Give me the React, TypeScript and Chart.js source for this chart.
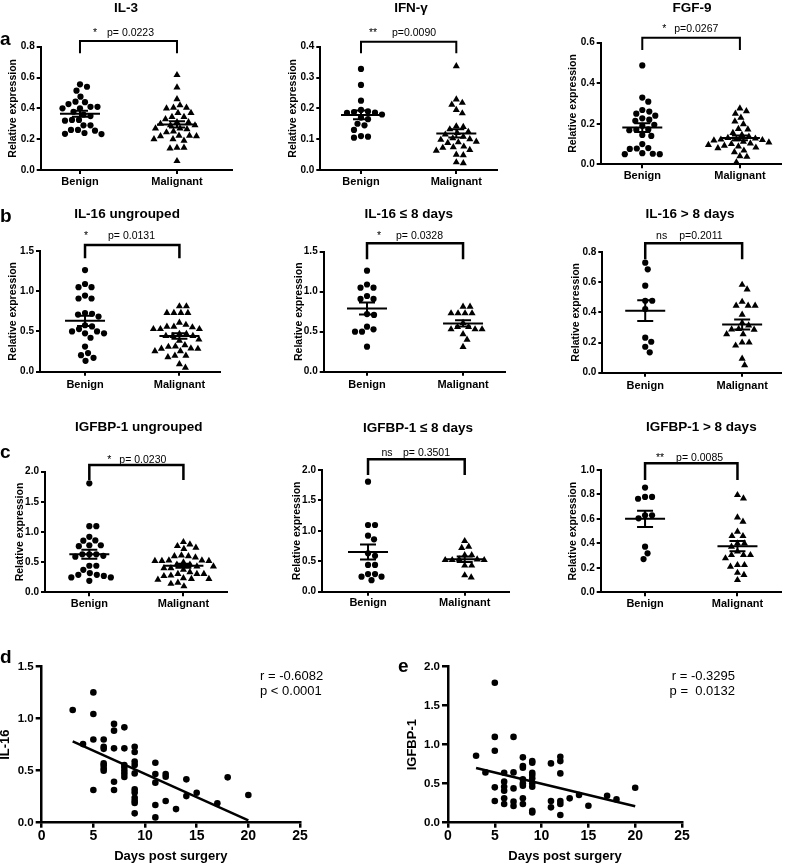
import React, { useEffect, useRef } from "react";
import { Chart, registerables } from "chart.js";

Chart.register(...registerables);

const FONT = '"Liberation Sans", Arial, Helvetica, sans-serif';
Chart.defaults.font.family = FONT;
Chart.defaults.color = "#000";

// ---------------- data ----------------
const GROUPS = ["Benign", "Malignant"];

// a: IL-3
const il3Benign = [0.556, 0.54, 0.515, 0.476, 0.443, 0.44, 0.428, 0.41, 0.41, 0.4, 0.4, 0.378, 0.36, 0.35, 0.325, 0.325, 0.32, 0.29, 0.29, 0.26, 0.26, 0.255, 0.24, 0.235, 0.233];
const il3Malignant = [0.616, 0.536, 0.46, 0.42, 0.405, 0.405, 0.4, 0.37, 0.37, 0.345, 0.345, 0.33, 0.31, 0.31, 0.3, 0.29, 0.29, 0.27, 0.27, 0.265, 0.25, 0.245, 0.223, 0.223, 0.22, 0.22, 0.2, 0.2, 0.19, 0.145, 0.145, 0.14, 0.058];
// a: IFN-γ
const ifnBenign = [0.328, 0.276, 0.225, 0.195, 0.19, 0.188, 0.186, 0.185, 0.18, 0.17, 0.165, 0.15, 0.145, 0.13, 0.11, 0.108, 0.105];
const ifnMalignant = [0.337, 0.229, 0.218, 0.212, 0.195, 0.184, 0.142, 0.14, 0.132, 0.124, 0.12, 0.115, 0.108, 0.103, 0.1, 0.098, 0.092, 0.09, 0.088, 0.076, 0.074, 0.072, 0.065, 0.063, 0.05, 0.048, 0.025, 0.022];
// a: FGF-9
const fgfBenign = [0.488, 0.329, 0.309, 0.268, 0.26, 0.25, 0.24, 0.227, 0.22, 0.215, 0.195, 0.19, 0.172, 0.17, 0.168, 0.145, 0.14, 0.1, 0.08, 0.078, 0.076, 0.055, 0.052, 0.05, 0.05];
const fgfMalignant = [0.276, 0.262, 0.25, 0.23, 0.212, 0.198, 0.175, 0.172, 0.155, 0.145, 0.137, 0.13, 0.127, 0.124, 0.122, 0.12, 0.118, 0.112, 0.108, 0.103, 0.1, 0.096, 0.092, 0.088, 0.083, 0.08, 0.068, 0.06, 0.04, 0.037, 0.01];
// b: IL-16
const il16EarlyBenign = [1.2625, 1.09, 1.05, 1.05, 0.946, 0.91, 0.91, 0.72, 0.71, 0.5625, 0.53, 0.5, 0.5, 0.3125];
const il16EarlyMalignant = [0.8125, 0.8125, 0.73, 0.73, 0.73, 0.73, 0.61, 0.56, 0.56, 0.53, 0.53, 0.53, 0.47, 0.4, 0.31];
const il16LateBenign = [0.729, 0.685, 0.577, 0.477, 0.477, 0.422, 0.232, 0.205, 0.172, 0.135];
const il16LateMalignant = [0.583, 0.552, 0.47, 0.444, 0.444, 0.444, 0.385, 0.33, 0.314, 0.29, 0.287, 0.285, 0.256, 0.256, 0.2, 0.2, 0.18, 0.093, 0.05];
const il16AllBenign = [...il16EarlyBenign, ...il16LateBenign];
const il16AllMalignant = [...il16EarlyMalignant, ...il16LateMalignant];
// c: IGFBP-1
const igfEarlyBenign = [1.808, 1.096, 1.096, 0.92, 0.86, 0.63, 0.59, 0.44, 0.44, 0.29, 0.29, 0.247, 0.247, 0.19];
const igfEarlyMalignant = [0.833, 0.74, 0.72, 0.6, 0.6, 0.53, 0.53, 0.52, 0.52, 0.52, 0.43, 0.43, 0.27, 0.235];
const igfLateBenign = [0.856, 0.78, 0.78, 0.765, 0.63, 0.63, 0.605, 0.373, 0.319, 0.272];
const igfLateMalignant = [0.795, 0.768, 0.613, 0.578, 0.496, 0.46, 0.46, 0.4, 0.4, 0.373, 0.333, 0.305, 0.305, 0.305, 0.278, 0.223, 0.223, 0.21, 0.16, 0.142, 0.1];
const igfAllBenign = [...igfEarlyBenign, ...igfLateBenign];
const igfAllMalignant = [...igfEarlyMalignant, ...igfLateMalignant];

// d: IL-16 vs days post surgery
const il16Days = [3, 4, 5, 5, 5, 5, 6, 6, 6, 6, 6, 6, 6, 7, 7, 7, 7, 7, 8, 8, 8, 8, 8, 8, 8, 9, 9, 9, 9, 9, 9, 9, 9, 9, 9, 9, 11, 11, 11, 11, 11, 12, 12, 12, 13, 14, 14, 15, 17, 18, 20];
const il16Values = [1.083, 0.756, 1.253, 1.045, 0.8, 0.314, 0.8, 0.73, 0.71, 0.57, 0.55, 0.52, 0.5, 0.95, 0.885, 0.715, 0.394, 0.314, 0.917, 0.715, 0.555, 0.53, 0.5, 0.47, 0.44, 0.73, 0.68, 0.587, 0.555, 0.474, 0.32, 0.29, 0.24, 0.21, 0.19, 0.09, 0.577, 0.468, 0.385, 0.17, 0.051, 0.468, 0.442, 0.208, 0.131, 0.417, 0.256, 0.288, 0.186, 0.436, 0.266];
// e: IGFBP-1 vs days post surgery
const igfDays = [3, 4, 5, 5, 5, 5, 5, 6, 6, 6, 6, 6, 6, 7, 7, 7, 7, 7, 8, 8, 8, 8, 8, 8, 8, 8, 9, 9, 9, 9, 9, 9, 9, 9, 9, 11, 11, 11, 12, 12, 12, 12, 12, 12, 13, 14, 15, 17, 18, 20];
const igfValues = [0.859, 0.645, 1.795, 1.1, 0.923, 0.453, 0.278, 0.641, 0.526, 0.46, 0.41, 0.312, 0.239, 1.1, 0.645, 0.44, 0.27, 0.214, 0.838, 0.726, 0.705, 0.556, 0.504, 0.474, 0.312, 0.24, 0.79, 0.77, 0.64, 0.611, 0.568, 0.504, 0.46, 0.154, 0.132, 0.76, 0.278, 0.197, 0.846, 0.79, 0.632, 0.278, 0.239, 0.098, 0.312, 0.355, 0.218, 0.346, 0.299, 0.449];

// ---------------- helpers ----------------
const mean = (a: number[]) => a.reduce((s, v) => s + v, 0) / a.length;
const sem = (a: number[]) => {
  const m = mean(a);
  const v = a.reduce((s, x) => s + (x - m) * (x - m), 0) / (a.length - 1);
  return Math.sqrt(v / a.length);
};
// greedy beeswarm: offsets computed in pixel space, returned in data units
function swarm(values: number[], center: number, pxPerY: number, pxPerX: number, diam: number) {
  const sorted = [...values].sort((a, b) => b - a);
  const placed: { x: number; y: number }[] = [];
  const out: { x: number; y: number }[] = [];
  sorted.forEach((v) => {
    const py = v * pxPerY;
    let best = 0;
    for (let k = 0; k < 400; k++) {
      const cand = k === 0 ? 0 : (k % 2 ? 1 : -1) * Math.ceil(k / 2) * 0.5;
      const ok = placed.every((p) => (p.x - cand) * (p.x - cand) + (p.y - py) * (p.y - py) >= diam * diam);
      if (ok) { best = cand; break; }
    }
    placed.push({ x: best, y: py });
    out.push({ x: center + best / pxPerX, y: v });
  });
  return out;
}
function linreg(xs: number[], ys: number[]) {
  const mx = mean(xs), my = mean(ys);
  let sxy = 0, sxx = 0;
  xs.forEach((x, i) => { sxy += (x - mx) * (ys[i] - my); sxx += (x - mx) * (x - mx); });
  const slope = sxy / sxx;
  return { slope, intercept: my - slope * mx };
}

// ---------------- layout specs ----------------
type Box = { x: number; y: number; w: number; h: number };
type Plot = { l: number; t: number; r: number; b: number };

const DOT_PANELS: any[] = [
  { title: "IL-3", letter: "a", letterPos: [0, 45], benign: il3Benign, malignant: il3Malignant, yMax: 0.8, yStep: 0.2,
    box: { x: 0, y: 0, w: 262, h: 190 }, plot: { l: 40.7, t: 46.7, r: 231.7, b: 170 }, xMin: 0.595, xMax: 2.564,
    yTitleX: 12.7, titlePos: [126, 8.5], star: "*", starDx: 15, pText: "p= 0.0223", pDx: 27,
    bracketTop: -5.7, bracketBottom: 6.6, textDy: -13.4, bw: 2, labelPad: 1 },
  { title: "IFN-γ", benign: ifnBenign, malignant: ifnMalignant, yMax: 0.4, yStep: 0.1,
    box: { x: 262, y: 0, w: 262, h: 190 }, plot: { l: 320.3, t: 46.7, r: 497, b: 170 }, xMin: 0.573, xMax: 2.427,
    yTitleX: 292.7, titlePos: [411, 8.5], star: "**", starDx: 12, pText: "p=0.0090", pDx: 31,
    bracketTop: -5, bracketBottom: 6.6, textDy: -13.4, bw: 2, labelPad: 1 },
  { title: "FGF-9", benign: fgfBenign, malignant: fgfMalignant, yMax: 0.6, yStep: 0.2,
    box: { x: 524, y: 0, w: 261, h: 190 }, plot: { l: 600.7, t: 42.7, r: 781, b: 164.3 }, xMin: 0.574, xMax: 2.42,
    yTitleX: 573, titlePos: [692, 8.5], star: "*", starDx: 22, pText: "p=0.0267", pDx: 32,
    bracketTop: -5, bracketBottom: 7.3, textDy: -13.4, bw: 2, labelPad: 1 },
  { title: "IL-16 ungrouped", letter: "b", letterPos: [0, 221.7], benign: il16AllBenign, malignant: il16AllMalignant, yMax: 1.5, yStep: 0.5,
    box: { x: 0, y: 195, w: 262, h: 200 }, plot: { l: 40, t: 251, r: 220, b: 371.7 }, xMin: 0.523, xMax: 2.43,
    yTitleX: 13, titlePos: [127, 214], star: "*", starDx: 1, pText: "p= 0.0131", pDx: 23,
    bracketTop: -6, bracketBottom: 7.3, textDy: -15.3, bw: 2.5, labelPad: 3 },
  { title: "IL-16 ≤ 8 days", benign: il16EarlyBenign, malignant: il16EarlyMalignant, yMax: 1.5, yStep: 0.5,
    box: { x: 262, y: 195, w: 262, h: 200 }, plot: { l: 323.7, t: 251.7, r: 505.3, b: 371.7 }, xMin: 0.549, xMax: 2.44,
    yTitleX: 298.7, titlePos: [408.7, 214], star: "*", starDx: 12, pText: "p= 0.0328", pDx: 29,
    bracketTop: -8.4, bracketBottom: 7.6, textDy: -15.7, bw: 2.5, labelPad: 3 },
  { title: "IL-16 > 8 days", benign: il16LateBenign, malignant: il16LateMalignant, yMax: 0.8, yStep: 0.2,
    box: { x: 524, y: 195, w: 261, h: 200 }, plot: { l: 602.3, t: 252, r: 781, b: 372.7 }, xMin: 0.557, xMax: 2.4,
    yTitleX: 575.7, titlePos: [690, 214], star: "ns", starDx: 16.4, pText: "p=0.2011", pDx: 34,
    bracketTop: -8.7, bracketBottom: 7.3, textDy: -16, bw: 2.5, labelPad: 3 },
  { title: "IGFBP-1 ungrouped", letter: "c", letterPos: [0, 458], benign: igfAllBenign, malignant: igfAllMalignant, yMax: 2.0, yStep: 0.5,
    box: { x: 0, y: 405, w: 262, h: 205 }, plot: { l: 45, t: 471.7, r: 226.7, b: 592.3 }, xMin: 0.529, xMax: 2.46,
    yTitleX: 20, titlePos: [138.7, 427.3], star: "*", starDx: 20, pText: "p= 0.0230", pDx: 30,
    bracketTop: -6.7, bracketBottom: 8.3, textDy: -11.7, bw: 2.5, labelPad: 1 },
  { title: "IGFBP-1 ≤ 8 days", benign: igfEarlyBenign, malignant: igfEarlyMalignant, yMax: 2.0, yStep: 0.5,
    box: { x: 262, y: 405, w: 262, h: 205 }, plot: { l: 322, t: 470, r: 508.7, b: 591.7 }, xMin: 0.524, xMax: 2.455,
    yTitleX: 297, titlePos: [418, 428.3], star: "ns", starDx: 19, pText: "p= 0.3501", pDx: 35,
    bracketTop: -10.7, bracketBottom: 5, textDy: -17.3, bw: 2.5, labelPad: 1 },
  { title: "IGFBP-1 > 8 days", benign: igfLateBenign, malignant: igfLateMalignant, yMax: 1.0, yStep: 0.2,
    box: { x: 524, y: 405, w: 261, h: 205 }, plot: { l: 600.7, t: 470, r: 781, b: 592.3 }, xMin: 0.52, xMax: 2.47,
    yTitleX: 573.3, titlePos: [701.3, 427.3], star: "**", starDx: 15, pText: "p= 0.0085", pDx: 31,
    bracketTop: -6.7, bracketBottom: 10, textDy: -11.7, bw: 2.5, labelPad: 1 },
];

const CORR_PANELS: any[] = [
  { letter: "d", letterPos: [0, 663], days: il16Days, values: il16Values, yMax: 1.5, yTitle: "IL-16",
    box: { x: 0, y: 640, w: 392, h: 225 }, plot: { l: 41.7, t: 666.7, r: 300, b: 822.7 }, yTitleX: 5,
    stats: ["r = -0.6082", "p < 0.0001"], statX: 260, statAlign: "left" },
  { letter: "e", letterPos: [398, 672], days: igfDays, values: igfValues, yMax: 2.0, yTitle: "IGFBP-1",
    box: { x: 392, y: 640, w: 393, h: 225 }, plot: { l: 448, t: 666.7, r: 682, b: 822.7 }, yTitleX: 412,
    stats: ["r = -0.3295", "p =  0.0132"], statX: 735, statAlign: "right" },
];

// ---------------- chart builders ----------------
function axisCommon(width: number) {
  return {
    grid: { drawOnChartArea: false, drawTicks: true, color: "#000", lineWidth: width },
    border: { display: true, color: "#000", width },
  };
}

function dotConfig(s: any) {
  const box: Box = s.box, plot: Plot = s.plot;
  const pxPerY = (plot.b - plot.t) / s.yMax;
  const pxPerX = (plot.r - plot.l) / (s.xMax - s.xMin);
  const decor = {
    id: "decor",
    afterDraw(chart: any) {
      const { ctx, chartArea, scales } = chart;
      const xs = scales.x, ys = scales.y;
      ctx.save();
      ctx.strokeStyle = "#000";
      ctx.fillStyle = "#000";
      ctx.lineWidth = 2;
      [s.benign, s.malignant].forEach((vals: number[], i: number) => {
        const cx = xs.getPixelForValue(i + 1);
        const m = mean(vals), e = sem(vals);
        const ym = ys.getPixelForValue(m), yh = ys.getPixelForValue(m + e), yl = ys.getPixelForValue(m - e);
        ctx.beginPath();
        ctx.moveTo(cx - 20, ym); ctx.lineTo(cx + 20, ym);
        ctx.moveTo(cx - 8, yh); ctx.lineTo(cx + 8, yh);
        ctx.moveTo(cx - 8, yl); ctx.lineTo(cx + 8, yl);
        ctx.moveTo(cx, yh); ctx.lineTo(cx, yl);
        ctx.stroke();
      });
      const x1 = xs.getPixelForValue(1), x2 = xs.getPixelForValue(2);
      const top = chartArea.top + s.bracketTop, bot = chartArea.top + s.bracketBottom;
      ctx.lineWidth = s.bw;
      ctx.lineJoin = "miter";
      ctx.beginPath();
      ctx.moveTo(x1, bot); ctx.lineTo(x1, top); ctx.lineTo(x2, top); ctx.lineTo(x2, bot);
      ctx.stroke();
      ctx.font = `10.5px ${FONT}`;
      ctx.textBaseline = "middle";
      const ty = chartArea.top + s.textDy;
      ctx.textAlign = "center";
      ctx.fillText(s.star, x1 + s.starDx, ty);
      ctx.textAlign = "left";
      ctx.fillText(s.pText, x1 + s.pDx, ty);
      ctx.font = `bold 13.5px ${FONT}`;
      ctx.textAlign = "center";
      ctx.fillText(s.title, s.titlePos[0] - box.x, s.titlePos[1] - box.y);
      if (s.letter) {
        ctx.font = `bold 19px ${FONT}`;
        ctx.textAlign = "left";
        ctx.textBaseline = "alphabetic";
        ctx.fillText(s.letter, s.letterPos[0] - box.x, s.letterPos[1] - box.y);
      }
      ctx.restore();
    },
  };
  const ax = axisCommon(2);
  return {
    type: "scatter",
    data: {
      datasets: [
        { data: swarm(s.benign, 1, pxPerY, pxPerX, 7), pointStyle: "circle", pointRadius: 3.1, backgroundColor: "#000", borderColor: "#000", borderWidth: 0, clip: false },
        { data: swarm(s.malignant, 2, pxPerY, pxPerX, 6.8), pointStyle: "triangle", pointRadius: 4.1, backgroundColor: "#000", borderColor: "#000", borderWidth: 0, clip: false },
      ],
    },
    options: {
      responsive: false,
      animation: false,
      events: [],
      layout: { padding: { left: 0, top: plot.t - box.y, right: box.x + box.w - plot.r, bottom: 0 } },
      plugins: { legend: { display: false }, tooltip: { enabled: false }, title: { display: false } },
      scales: {
        x: {
          type: "linear", min: s.xMin, max: s.xMax,
          afterBuildTicks: (scale: any) => { scale.ticks = [{ value: 1 }, { value: 2 }]; },
          afterFit: (scale: any) => { scale.height = box.y + box.h - plot.b; },
          ticks: { callback: (v: number) => GROUPS[Math.round(v) - 1], font: { size: 11, weight: "bold" }, color: "#000", padding: s.labelPad, maxRotation: 0, autoSkip: false },
          grid: { ...ax.grid, tickLength: 4 },
          border: ax.border,
        },
        y: {
          type: "linear", min: 0, max: s.yMax,
          afterFit: (scale: any) => { scale.width = plot.l - box.x; },
          ticks: { stepSize: s.yStep, callback: (v: number) => v.toFixed(1), font: { size: 10, weight: "bold" }, color: "#000", padding: 2 },
          grid: { ...ax.grid, tickLength: 4 },
          border: ax.border,
          title: { display: true, text: "Relative expression", color: "#000", font: { size: 10.5, weight: "bold", lineHeight: 1 }, padding: { top: s.yTitleX - box.x - 5.25, bottom: 0 } },
        },
      },
    },
    plugins: [decor],
  };
}

function corrConfig(s: any) {
  const box: Box = s.box, plot: Plot = s.plot;
  const pts = s.days.map((d: number, i: number) => ({ x: d, y: s.values[i] }));
  const { slope, intercept } = linreg(s.days, s.values);
  const x0 = Math.min(...s.days), x1 = Math.max(...s.days);
  const decor = {
    id: "decor",
    afterDraw(chart: any) {
      const { ctx } = chart;
      ctx.save();
      ctx.fillStyle = "#000";
      ctx.font = `13px ${FONT}`;
      ctx.textBaseline = "middle";
      ctx.textAlign = s.statAlign;
      ctx.fillText(s.stats[0], s.statX - box.x, 676.7 - box.y);
      ctx.fillText(s.stats[1], s.statX - box.x, 691.7 - box.y);
      ctx.font = `bold 19px ${FONT}`;
      ctx.textAlign = "left";
      ctx.textBaseline = "alphabetic";
      ctx.fillText(s.letter, s.letterPos[0] - box.x, s.letterPos[1] - box.y);
      ctx.restore();
    },
  };
  const ax = axisCommon(2.5);
  return {
    type: "scatter",
    data: {
      datasets: [
        { type: "scatter", data: pts, pointStyle: "circle", pointRadius: 3.3, backgroundColor: "#000", borderColor: "#000", borderWidth: 0, clip: false },
        { type: "line", data: [{ x: x0, y: intercept + slope * x0 }, { x: x1, y: intercept + slope * x1 }], borderColor: "#000", borderWidth: 2.5, pointRadius: 0, fill: false, clip: false },
      ],
    },
    options: {
      responsive: false,
      animation: false,
      events: [],
      layout: { padding: { left: 0, top: plot.t - box.y, right: box.x + box.w - plot.r, bottom: 0 } },
      plugins: { legend: { display: false }, tooltip: { enabled: false }, title: { display: false } },
      scales: {
        x: {
          type: "linear", min: 0, max: 25,
          afterFit: (scale: any) => { scale.height = box.y + box.h - plot.b; },
          ticks: { stepSize: 5, font: { size: 14, weight: "bold" }, color: "#000", padding: 0, maxRotation: 0 },
          grid: { ...ax.grid, tickLength: 5 },
          border: ax.border,
          title: { display: true, text: "Days post surgery", color: "#000", font: { size: 13, weight: "bold", lineHeight: 1 }, padding: { top: 0, bottom: 1.8 } },
        },
        y: {
          type: "linear", min: 0, max: s.yMax,
          afterFit: (scale: any) => { scale.width = plot.l - box.x; },
          ticks: { stepSize: 0.5, callback: (v: number) => v.toFixed(1), font: { size: 11.5, weight: "bold" }, color: "#000", padding: 2 },
          grid: { ...ax.grid, tickLength: 6 },
          border: ax.border,
          title: { display: true, text: s.yTitle, color: "#000", font: { size: 13, weight: "bold", lineHeight: 1 }, padding: { top: s.yTitleX - box.x - 6.5, bottom: 0 } },
        },
      },
    },
    plugins: [decor],
  };
}

// ---------------- components ----------------
function ChartCanvas({ box, make }: { box: Box; make: () => any }) {
  const ref = useRef<HTMLCanvasElement>(null);
  useEffect(() => {
    const chart = new Chart(ref.current as HTMLCanvasElement, make());
    return () => chart.destroy();
  }, []);
  return (
    <canvas
      ref={ref}
      width={box.w}
      height={box.h}
      style={{ position: "absolute", left: box.x, top: box.y, width: box.w, height: box.h }}
    />
  );
}

export default function App() {
  return (
    <div style={{ position: "absolute", left: 0, top: 0, width: 785, height: 865, background: "#fff", overflow: "hidden" }}>
      {DOT_PANELS.map((p, i) => (
        <ChartCanvas key={"dot" + i} box={p.box} make={() => dotConfig(p)} />
      ))}
      {CORR_PANELS.map((p, i) => (
        <ChartCanvas key={"corr" + i} box={p.box} make={() => corrConfig(p)} />
      ))}
    </div>
  );
}
